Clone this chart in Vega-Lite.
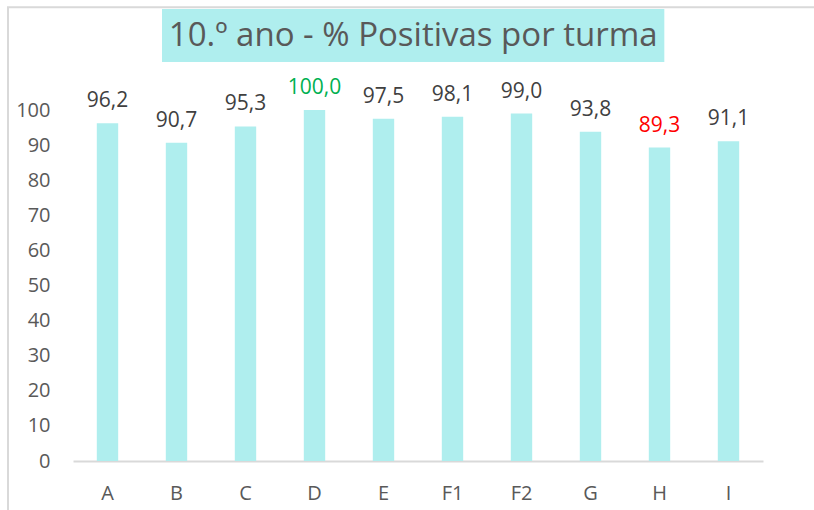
{
  "$schema": "https://vega.github.io/schema/vega-lite/v6.json",
  "width": 690,
  "height": 351,
  "autosize": {"type": "none"},
  "padding": {"left": 73, "top": 110, "right": 51, "bottom": 49},
  "background": "white",
  "config": {
    "view": {"stroke": null},
    "font": "Open Sans",
    "locale": {"number": {"decimal": ",", "thousands": ".", "grouping": [3], "currency": ["", " €"]}}
  },
  "resolve": {"scale": {"x": "independent", "y": "independent"}},
  "layer": [
    {
      "data": {"values": [{"x0": -0.942, "x1": 11, "y0": -20, "y1": 129.3}]},
      "mark": {"type": "rect", "fill": null, "stroke": "#D9D9D9", "strokeWidth": 2},
      "encoding": {
        "x": {"field": "x0", "type": "quantitative", "scale": {"domain": [0, 10], "nice": false, "zero": false}, "axis": null},
        "x2": {"field": "x1"},
        "y": {"field": "y0", "type": "quantitative", "scale": {"domain": [0, 100], "nice": false}, "axis": null},
        "y2": {"field": "y1"}
      }
    },
    {
      "data": {"values": [{"x0": 1.29, "x1": 8.57, "y0": 113.7, "y1": 128.8}]},
      "mark": {"type": "rect", "fill": "#AFEEEE"},
      "encoding": {
        "x": {"field": "x0", "type": "quantitative", "scale": {"domain": [0, 10], "nice": false, "zero": false}, "axis": null},
        "x2": {"field": "x1"},
        "y": {"field": "y0", "type": "quantitative", "scale": {"domain": [0, 100], "nice": false}, "axis": null},
        "y2": {"field": "y1"}
      }
    },
    {
      "data": {"values": [{"x": 4.93, "y": 121.2, "t": "10.º ano - % Positivas por turma"}]},
      "mark": {"type": "text", "fontSize": 33, "color": "#595959", "baseline": "middle", "align": "center", "font": "Open Sans"},
      "encoding": {
        "x": {"field": "x", "type": "quantitative", "scale": {"domain": [0, 10], "nice": false, "zero": false}, "axis": null},
        "y": {"field": "y", "type": "quantitative", "scale": {"domain": [0, 100], "nice": false}, "axis": null},
        "text": {"field": "t"}
      }
    },
    {
      "data": {"values": [
        {"turma": "A", "v": 96.2},
        {"turma": "B", "v": 90.7},
        {"turma": "C", "v": 95.3},
        {"turma": "D", "v": 100.0},
        {"turma": "E", "v": 97.5},
        {"turma": "F1", "v": 98.1},
        {"turma": "F2", "v": 99.0},
        {"turma": "G", "v": 93.8},
        {"turma": "H", "v": 89.3},
        {"turma": "I", "v": 91.1}
      ]},
      "encoding": {
        "x": {
          "field": "turma", "type": "nominal", "sort": null,
          "scale": {"paddingInner": 0.69, "paddingOuter": 0.345},
          "axis": {"title": null, "labelAngle": 0, "domainColor": "#D9D9D9", "domainWidth": 2, "ticks": false, "labelPadding": 22, "labelFontSize": 20, "labelColor": "#595959", "labelFont": "Open Sans"}
        },
        "y": {
          "field": "v", "type": "quantitative",
          "scale": {"domain": [0, 100], "nice": false},
          "axis": {"title": null, "grid": false, "domain": false, "ticks": false, "values": [0, 10, 20, 30, 40, 50, 60, 70, 80, 90, 100], "labelPadding": 23, "labelFontSize": 20, "labelColor": "#595959", "labelFont": "Open Sans"}
        }
      },
      "layer": [
        {"mark": {"type": "bar", "color": "#AFEEEE"}},
        {
          "mark": {"type": "text", "baseline": "alphabetic", "dy": -16, "fontSize": 21, "font": "Open Sans"},
          "encoding": {
            "text": {"field": "v", "type": "quantitative", "format": ".1f"},
            "color": {
              "condition": [
                {"test": "datum.v >= 100", "value": "#00B050"},
                {"test": "datum.v < 90", "value": "#FF0000"}
              ],
              "value": "#404040"
            }
          }
        }
      ]
    }
  ]
}
